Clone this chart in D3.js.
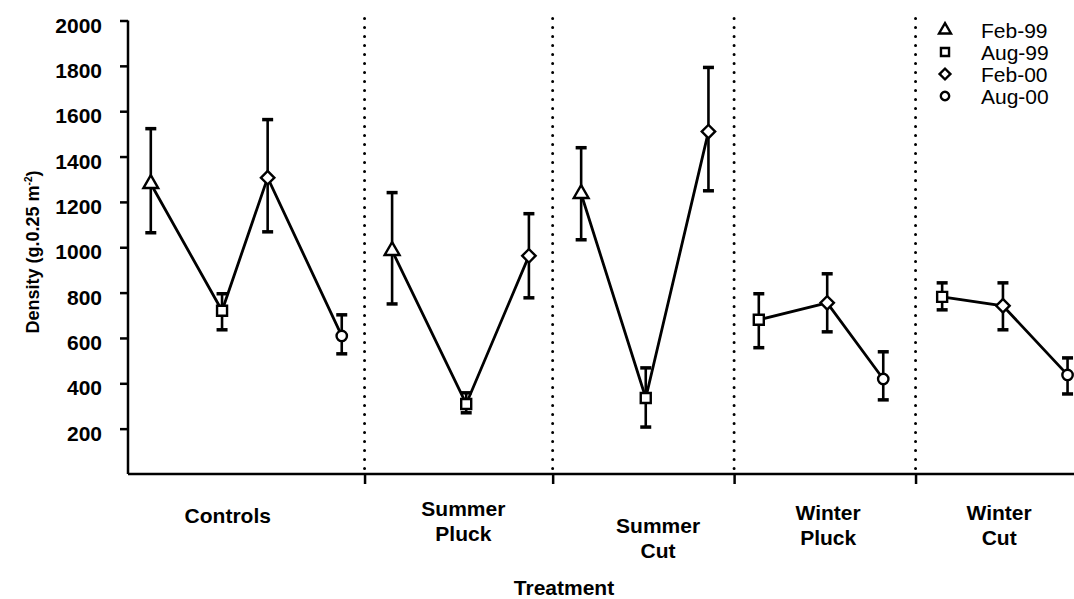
<!DOCTYPE html>
<html lang="en">
<head>
<meta charset="UTF-8">
<script src="https://cdn.jsdelivr.net/npm/d3@7"></script>
<title>Density by treatment</title>
<style>
  body { margin: 0; background: #fff; font-family: "Liberation Sans", Arial, sans-serif; }
  svg { display: block; }
  .axis path, .axis line { stroke: #000; stroke-width: 2.5; }
  .axis text { font-size: 21px; font-weight: bold; fill: #000; font-family: "Liberation Sans", Arial, sans-serif; }
  .divider { stroke: #000; stroke-width: 3; stroke-dasharray: 0 9; stroke-linecap: round; }
  .series { fill: none; stroke: #000; stroke-width: 2.8; }
  .err { stroke: #000; stroke-width: 2.6; }
  .cap { stroke: #000; stroke-width: 3.5; }
  .marker { fill: #fff; stroke: #000; stroke-width: 2.4; }
  .label { font-size: 21px; font-weight: bold; fill: #000; }
</style>
</head>
<body>
<svg id="chart" width="1074" height="599"></svg>
<script>
// treatments along the x axis and the four sampling dates
const treatments = ['Controls', 'Summer Pluck', 'Summer Cut', 'Winter Pluck', 'Winter Cut'];
const seasons = ['Feb-99', 'Aug-99', 'Feb-00', 'Aug-00'];
const yTicks = [200, 400, 600, 800, 1000, 1200, 1400, 1600, 1800, 2000];

// one entry per plotted point
const pointTreatment = [0, 0, 0, 0, 1, 1, 1, 2, 2, 2, 3, 3, 3, 4, 4, 4];
const pointSeason = [0, 1, 2, 3, 0, 1, 2, 0, 1, 2, 1, 2, 3, 1, 2, 3];
const pointPos = [2.4, 9.9, 14.7, 22.5, 27.8, 35.6, 42.2, 47.7, 54.5, 61.1, 66.4, 73.6, 79.5, 85.7, 92.1, 98.9];
const density = [1280, 720, 1307, 609, 985, 309, 962, 1236, 335, 1510, 680, 755, 419, 781, 742, 437];
const upper = [1523, 795, 1563, 702, 1241, 358, 1148, 1439, 468, 1793, 795, 883, 539, 843, 843, 512];
const lower = [1064, 636, 1068, 530, 750, 270, 777, 1033, 207, 1249, 557, 627, 327, 724, 636, 353];

// where the treatment blocks are split and where their names sit
const dividerPos = [24.9, 44.7, 63.8, 82.9];
const labelPos = [10.5, 35.3, 55.8, 73.7, 91.7];

const width = 1074;
const height = 599;
const labelBase = [523, 516, 533, 520, 520];
const lineGap = 25;

const svg = d3.select('#chart')
  .attr('width', width)
  .attr('height', height);

const x = d3.scaleLinear().domain([0, 100]).range([128, 1078]);
const y = d3.scaleLinear().domain([0, 2000]).range([474, 20.5]);

// marker shapes: triangle, square, diamond (rotated square), circle
const shapes = [
  { type: d3.symbolTriangle, size: 95, rot: 0 },
  { type: d3.symbolSquare, size: 100, rot: 0 },
  { type: d3.symbolSquare, size: 90, rot: 45 },
  { type: d3.symbolCircle, size: 85, rot: 0 }
];

// dotted dividers between treatments
svg.selectAll('.divider')
  .data(dividerPos)
  .enter()
  .append('line')
  .attr('class', 'divider')
  .attr('x1', d => x(d))
  .attr('x2', d => x(d))
  .attr('y1', y(2000) - 2)
  .attr('y2', y(0));

// axes
svg.append('g')
  .attr('class', 'axis')
  .attr('transform', `translate(0, ${y(0)})`)
  .call(d3.axisBottom(x).tickValues(dividerPos).tickSize(10).tickSizeOuter(0).tickFormat(''))
  .select('.domain')
  .attr('d', `M${x(0)},0H${width}`);

const yAxis = svg.append('g')
  .attr('class', 'axis')
  .attr('transform', `translate(${x(0)}, 0)`)
  .call(d3.axisLeft(y).tickValues(yTicks).tickSize(8).tickPadding(18).tickSizeOuter(0).tickFormat(d3.format('d')));
yAxis.selectAll('text').attr('dy', '0.55em');
yAxis.select('.domain').attr('d', `M0,${y(2000)}V${y(0)}`);

// connecting lines within each treatment
const idx = d3.range(density.length);
const byTreatment = d3.groups(idx, i => pointTreatment[i]);
const line = d3.line()
  .x(i => x(pointPos[i]))
  .y(i => y(density[i]));

svg.selectAll('.series')
  .data(byTreatment)
  .enter()
  .append('path')
  .attr('class', 'series')
  .attr('d', d => line(d[1]));

// error bars
const bars = svg.selectAll('.bar')
  .data(idx)
  .enter()
  .append('g')
  .attr('class', 'bar');

bars.append('line')
  .attr('class', 'err')
  .attr('x1', i => x(pointPos[i]))
  .attr('x2', i => x(pointPos[i]))
  .attr('y1', i => y(lower[i]))
  .attr('y2', i => y(upper[i]));

[upper, lower].forEach(vals => {
  bars.append('line')
    .attr('class', 'cap')
    .attr('x1', i => x(pointPos[i]) - 5.5)
    .attr('x2', i => x(pointPos[i]) + 5.5)
    .attr('y1', i => y(vals[i]))
    .attr('y2', i => y(vals[i]));
});

// markers
svg.selectAll('.marker')
  .data(idx)
  .enter()
  .append('path')
  .attr('class', 'marker')
  .attr('d', i => d3.symbol(shapes[pointSeason[i]].type, shapes[pointSeason[i]].size)())
  .attr('transform', i => `translate(${x(pointPos[i])}, ${y(density[i])}) rotate(${shapes[pointSeason[i]].rot})`);

// treatment names under the axis
const labels = svg.selectAll('.label')
  .data(treatments)
  .enter()
  .append('text')
  .attr('class', 'label')
  .attr('text-anchor', 'middle')
  .attr('x', (d, i) => x(labelPos[i]))
  .attr('y', (d, i) => labelBase[i]);

labels.selectAll('tspan')
  .data(d => d.split(' '))
  .enter()
  .append('tspan')
  .attr('x', function () { return this.parentNode.getAttribute('x'); })
  .attr('dy', (d, j) => j === 0 ? 0 : lineGap)
  .text(d => d);

// axis titles
svg.append('text')
  .attr('class', 'label')
  .attr('text-anchor', 'middle')
  .attr('x', 564)
  .attr('y', 595)
  .text('Treatment');

const yTitle = svg.append('text')
  .attr('class', 'label')
  .attr('text-anchor', 'middle')
  .attr('transform', 'translate(39, 252) rotate(-90)')
  .style('font-size', '18px');
yTitle.append('tspan').text('Density (g.0.25 m');
yTitle.append('tspan').attr('dy', -7).style('font-size', '10px').text('-2');
yTitle.append('tspan').attr('dy', 7).text(')');

// legend
const legend = svg.selectAll('.legend')
  .data(seasons)
  .enter()
  .append('g')
  .attr('class', 'legend')
  .attr('transform', (d, i) => `translate(945, ${30 + i * 22})`);

legend.append('path')
  .attr('class', 'marker')
  .attr('d', (d, i) => d3.symbol(shapes[i].type, shapes[i].size * 0.65)())
  .attr('transform', (d, i) => `rotate(${shapes[i].rot})`);

legend.append('text')
  .attr('class', 'label')
  .attr('x', 36)
  .attr('dy', '0.36em')
  .style('font-weight', 'normal')
  .text(d => d);
</script>
</body>
</html>
